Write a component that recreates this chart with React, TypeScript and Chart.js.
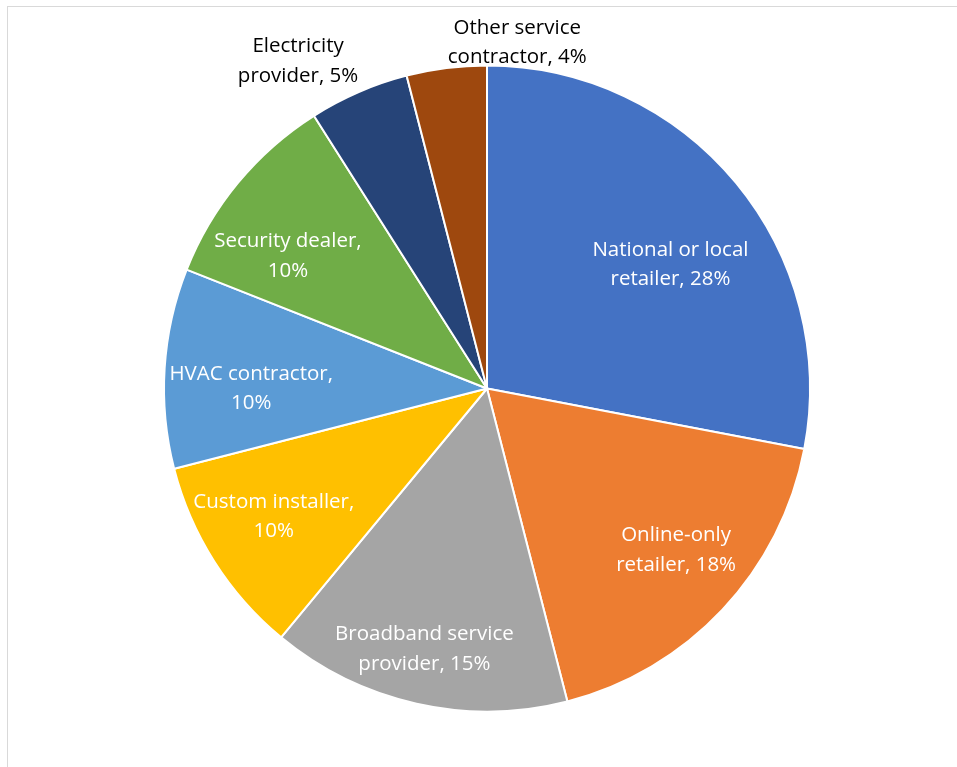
import React, { useEffect, useRef } from "react";
import { Chart, registerables } from "chart.js";

Chart.register(...registerables);

const categories: string[][] = [
  ["National or local", "retailer, 28%"],
  ["Online-only", "retailer, 18%"],
  ["Broadband service", "provider, 15%"],
  ["Custom installer,", "10%"],
  ["HVAC contractor,", "10%"],
  ["Security dealer,", "10%"],
  ["Electricity", "provider, 5%"],
  ["Other service", "contractor, 4%"],
];
const values: number[] = [28, 18, 15, 10, 10, 10, 5, 4];
const colors: string[] = [
  "#4472C4",
  "#ED7D31",
  "#A5A5A5",
  "#FFC000",
  "#5B9BD5",
  "#70AD47",
  "#264478",
  "#9E480E",
];
// label placement: [angle in degrees clockwise from top, distance as fraction of radius]
const labelPlacement: number[][] = [
  [56, 0.685],
  [130.5, 0.77],
  [193.5, 0.83],
  [239, 0.77],
  [270, 0.73],
  [303.6, 0.74],
  [330, 1.17],
  [5, 1.075],
];
const labelColors: string[] = ["#fff", "#fff", "#fff", "#fff", "#fff", "#fff", "#000", "#000"];

const FONT = "20.5px 'Open Sans', sans-serif";

const labelPlugin = {
  id: "sliceLabels",
  afterDatasetsDraw(chart: any) {
    const meta = chart.getDatasetMeta(0);
    const arc = meta.data[0];
    if (!arc) return;
    const { x, y, outerRadius } = arc.getProps(["x", "y", "outerRadius"], true);
    const ctx = chart.ctx;
    ctx.save();
    ctx.font = FONT;
    ctx.textAlign = "center";
    ctx.textBaseline = "middle";
    categories.forEach((lines, i) => {
      const [deg, f] = labelPlacement[i];
      const a = (deg * Math.PI) / 180;
      const cx = x + Math.sin(a) * outerRadius * f;
      const cy = y - Math.cos(a) * outerRadius * f;
      const lh = 29.5;
      ctx.fillStyle = labelColors[i];
      lines.forEach((ln, j) => {
        ctx.fillText(ln, cx, cy + (j - (lines.length - 1) / 2) * lh);
      });
    });
    ctx.restore();
  },
};

export default function App() {
  const ref = useRef<HTMLCanvasElement>(null);
  useEffect(() => {
    document.body.style.margin = "0";
    const chart = new Chart(ref.current!, {
      type: "pie",
      data: {
        labels: categories.map((l) => l.join(" ")),
        datasets: [
          {
            data: values,
            backgroundColor: colors,
            borderColor: "#ffffff",
            borderWidth: 2,
          },
        ],
      },
      options: {
        animation: false,
        responsive: false,
        layout: { padding: { left: 163, right: 146, top: 64, bottom: 54 } },
        plugins: {
          legend: { display: false },
          tooltip: { enabled: false },
        },
      },
      plugins: [labelPlugin],
    });
    return () => chart.destroy();
  }, []);
  return (
    <div style={{ position: "relative", width: 957, height: 767, overflow: "hidden", background: "#fff" }}>
      <div
        style={{
          position: "absolute",
          left: 7,
          top: 6,
          width: 1000,
          height: 1000,
          borderLeft: "1px solid #D9D9D9",
          borderTop: "1px solid #D9D9D9",
        }}
      />
      <canvas ref={ref} width={957} height={767} style={{ position: "absolute", left: 0, top: 0 }} />
    </div>
  );
}
